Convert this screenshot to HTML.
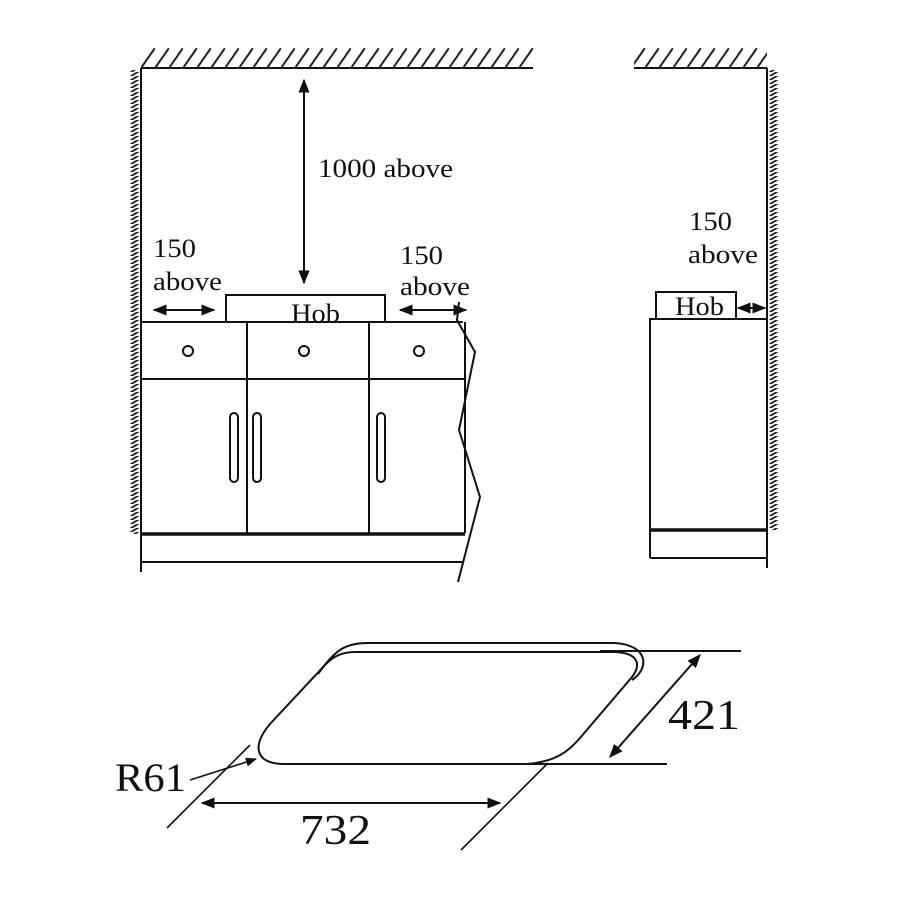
<!DOCTYPE html>
<html><head><meta charset="utf-8"><style>html,body{margin:0;padding:0;background:#fff}svg{display:block}</style></head>
<body>
<svg width="900" height="900" viewBox="0 0 900 900" xmlns="http://www.w3.org/2000/svg" font-family="Liberation Serif, serif" fill="none" stroke="#111" stroke-width="2">
<defs>
<pattern id="ceil" width="14" height="20" patternUnits="userSpaceOnUse" x="141" y="48"><line x1="0" y1="20" x2="14" y2="0" stroke="#222" stroke-width="2"/></pattern>
<pattern id="wall" width="13" height="4" patternUnits="userSpaceOnUse" x="128" y="0"><line x1="0" y1="6" x2="13" y2="-2" stroke="#222" stroke-width="1.8"/></pattern>
<pattern id="wall2" width="13" height="4" patternUnits="userSpaceOnUse" x="767" y="0"><line x1="0" y1="6" x2="13" y2="-2" stroke="#222" stroke-width="1.8"/></pattern>
<marker id="ah" viewBox="0 0 10 10" refX="9" refY="5" markerWidth="7" markerHeight="7" orient="auto-start-reverse"><path d="M0,1 L10,5 L0,9 z" fill="#111" stroke="none"/></marker>
</defs>
<rect x="141" y="48" width="392" height="20" fill="url(#ceil)" stroke="none"/>
<line x1="141" y1="68" x2="533" y2="68"/>
<rect x="128" y="70" width="13" height="464" fill="url(#wall)" stroke="none"/>
<line x1="141" y1="68" x2="141" y2="572"/>
<line x1="304" y1="80" x2="304" y2="283" marker-start="url(#ah)" marker-end="url(#ah)"/>
<g fill="#111" stroke="none" font-size="26">
<text x="318" y="177" textLength="135" lengthAdjust="spacingAndGlyphs">1000 above</text>
<text x="153" y="257" textLength="43" lengthAdjust="spacingAndGlyphs">150</text><text x="153" y="290" textLength="69" lengthAdjust="spacingAndGlyphs">above</text>
<text x="400" y="264" textLength="43" lengthAdjust="spacingAndGlyphs">150</text><text x="400" y="295" textLength="70" lengthAdjust="spacingAndGlyphs">above</text>
<text x="689" y="230" textLength="43" lengthAdjust="spacingAndGlyphs">150</text><text x="688" y="263" textLength="70" lengthAdjust="spacingAndGlyphs">above</text>
<text x="291" y="322" textLength="49" lengthAdjust="spacingAndGlyphs">Hob</text>
<text x="675" y="315" textLength="49" lengthAdjust="spacingAndGlyphs">Hob</text>
</g>
<line x1="154" y1="310" x2="214" y2="310" marker-start="url(#ah)" marker-end="url(#ah)"/>
<line x1="400" y1="310" x2="466" y2="310" marker-start="url(#ah)" marker-end="url(#ah)"/>
<rect x="226" y="295" width="159" height="27"/>
<line x1="141" y1="322" x2="463" y2="322"/>
<line x1="465" y1="322" x2="465" y2="533"/>
<line x1="141" y1="379" x2="465" y2="379"/>
<line x1="247" y1="322" x2="247" y2="534"/>
<line x1="369" y1="322" x2="369" y2="534"/>
<circle cx="188" cy="351" r="5"/><circle cx="304" cy="351" r="5"/><circle cx="419" cy="351" r="5"/>
<rect x="230" y="413" width="8" height="69" rx="4"/>
<rect x="253" y="413" width="8" height="69" rx="4"/>
<rect x="377" y="413" width="8" height="69" rx="4"/>
<line x1="141" y1="534" x2="465" y2="534" stroke-width="3.5"/>
<line x1="141" y1="562" x2="463" y2="562"/>
<polyline points="459,302 457,320 475,352 459,430 480,497 458,582"/>
<rect x="634" y="48" width="133" height="20" fill="url(#ceil)" stroke="none"/>
<line x1="634" y1="68" x2="767" y2="68"/>
<rect x="767" y="70" width="13" height="460" fill="url(#wall2)" stroke="none"/>
<line x1="767" y1="68" x2="767" y2="568"/>
<rect x="656" y="292" width="80" height="27"/>
<rect x="650" y="319" width="117" height="211"/>
<line x1="650" y1="530" x2="767" y2="530" stroke-width="3.5"/>
<line x1="650" y1="530" x2="650" y2="558"/>
<line x1="650" y1="558" x2="767" y2="558"/>
<line x1="738" y1="308" x2="765" y2="308" marker-start="url(#ah)" marker-end="url(#ah)"/>
<path d="M285,764 L526,764 C555,762 568,752 580,738 L632,677 C642,664 638,652 612,652 L356,652 C342,652 334,656 326,664 L270,724 C252,745 254,764 285,764 Z"/>
<path d="M318,674 C335,650 345,643 368,643 L615,643 C648,645 650,668 632,680"/>
<line x1="600" y1="651" x2="741" y2="651"/>
<line x1="527" y1="764" x2="667" y2="764"/>
<line x1="700" y1="655" x2="610" y2="757" marker-start="url(#ah)" marker-end="url(#ah)"/>
<line x1="250" y1="745" x2="167" y2="828" stroke-width="1.6"/>
<line x1="548" y1="763" x2="461" y2="850" stroke-width="1.6"/>
<line x1="202" y1="803" x2="500" y2="803" marker-start="url(#ah)" marker-end="url(#ah)"/>
<line x1="190" y1="780" x2="256" y2="759" marker-end="url(#ah)" stroke-width="1.6"/>
<g fill="#111" stroke="none" font-size="42">
<text x="668" y="729" textLength="72" lengthAdjust="spacingAndGlyphs">421</text>
<text x="300" y="844" textLength="71" lengthAdjust="spacingAndGlyphs">732</text>
<text x="115" y="791" textLength="71" lengthAdjust="spacingAndGlyphs" font-size="40">R61</text>
</g>
</svg>
</body></html>
